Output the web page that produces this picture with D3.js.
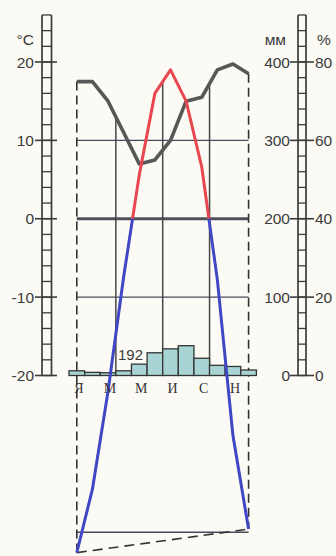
<!DOCTYPE html>
<html>
<head>
<meta charset="utf-8">
<script src="https://cdn.jsdelivr.net/npm/d3@7"></script>
<style>
  body { margin: 0; background: #fbfaf5; }
  svg { display: block; }
</style>
</head>
<body>
<div id="chart"></div>
<script>
// climate diagram data
const months = ["Jan", "Feb", "Mar", "Apr", "May", "Jun", "Jul", "Aug", "Sep", "Oct", "Nov", "Dec"];
const monthLabels = ["Я", "", "М", "", "М", "", "И", "", "С", "", "Н", ""];
const temperature = [-42.6, -34.5, -22, -7.4, 5.6, 16, 19, 15, 6.6, -7.8, -27.7, -39.6];   // °C
const humidity = [75, 75, 70, 62, 54, 55, 60, 70, 71, 78, 79.5, 77];                       // %
const precipitation = [6, 4, 3.5, 6, 14.5, 29, 34, 38, 22, 13, 11.5, 7];                   // mm
const annualTotal = "192";
const tempTicks = [-20, -10, 0, 10, 20];
const mmTicks = [0, 100, 200, 300, 400];
const pctTicks = [0, 20, 40, 60, 80];
const gridTemps = [10, 0, -10, -40];
const quarterStarts = ["Apr", "Jul", "Oct"];

var W = 336, H = 556;
var ink = "#3b3b3b";

var svg = d3.select("#chart").append("svg")
    .attr("width", W)
    .attr("height", H);

// scales
var x = d3.scaleBand().domain(months).range([69, 256.4]);
var cx = function (m) { return x(m) + x.bandwidth() / 2; };
var yT = d3.scaleLinear().domain([-20, 20]).range([375.5, 62]);
var yMm = d3.scaleLinear().domain([0, 400]).range([375.5, 62]);
var yPct = d3.scaleLinear().domain([0, 80]).range([375.5, 62]);

var xFirst = cx(months[0]), xLast = cx(months[months.length - 1]);

// linear interpolation of a monthly series in pixel space
var interpY = function (values, scale, px) {
    for (var i = 0; i < months.length - 1; i++) {
        var a = cx(months[i]), b = cx(months[i + 1]);
        if (px >= a && px <= b) {
            var t = (px - a) / (b - a);
            return scale(values[i]) + t * (scale(values[i + 1]) - scale(values[i]));
        }
    }
    return scale(values[0]);
};

// ---- ladders (scales at both sides) ----
var drawLadder = function (x1, x2, tx1, tx2) {
    var g = svg.append("g");
    var top = yT(26), bottom = yT(-20);
    g.selectAll(".rail").data([x1, x2]).enter().append("line")
        .attr("x1", d => d).attr("x2", d => d)
        .attr("y1", top).attr("y2", bottom)
        .attr("stroke", ink).attr("stroke-width", 1.7);
    g.selectAll(".rung").data(d3.range(-20, 27, 2)).enter().append("line")
        .attr("x1", x1).attr("x2", x2)
        .attr("y1", d => yT(d)).attr("y2", d => yT(d))
        .attr("stroke", ink).attr("stroke-width", 1.3);
    g.selectAll(".tick").data(tempTicks).enter().append("line")
        .attr("x1", tx1).attr("x2", tx2)
        .attr("y1", d => yT(d)).attr("y2", d => yT(d))
        .attr("stroke", ink).attr("stroke-width", 1.6);
};
drawLadder(42, 51.5, 35, 57);
drawLadder(298, 306, 290, 314);

var labelStyle = function (sel) {
    return sel.attr("font-family", "Liberation Sans, Arial, sans-serif")
        .attr("font-size", "15.5px")
        .attr("fill", ink);
};

// left axis labels (°C)
labelStyle(svg.selectAll(".tl").data(tempTicks).enter().append("text"))
    .attr("x", 34).attr("y", d => yT(d)).attr("dy", "0.36em")
    .attr("text-anchor", "end")
    .text(d => d);
labelStyle(svg.append("text")).attr("x", 34).attr("y", 45).attr("text-anchor", "end").text("°C");

// right axis labels (mm and %)
labelStyle(svg.selectAll(".ml").data(mmTicks).enter().append("text"))
    .attr("x", 290).attr("y", d => yMm(d)).attr("dy", "0.36em")
    .attr("text-anchor", "end")
    .text(d => d);
labelStyle(svg.selectAll(".pl").data(pctTicks).enter().append("text"))
    .attr("x", 315).attr("y", d => yPct(d)).attr("dy", "0.36em")
    .text(d => d);
labelStyle(svg.append("text")).attr("x", 286).attr("y", 45).attr("text-anchor", "end").text("мм");
labelStyle(svg.append("text")).attr("x", 317).attr("y", 45).text("%");

// ---- grid ----
svg.selectAll(".grid").data(gridTemps).enter().append("line")
    .attr("x1", xFirst).attr("x2", xLast)
    .attr("y1", d => yT(d)).attr("y2", d => yT(d))
    .attr("stroke", d => d === 0 ? "#4e5159" : "#464d5a")
    .attr("stroke-width", d => d === 0 ? 3 : 1.4);

// quarter verticals run from the upper curve down to the bars
svg.selectAll(".qv").data(quarterStarts).enter().append("line")
    .attr("x1", d => x(d)).attr("x2", d => x(d))
    .attr("y1", d => Math.min(interpY(humidity, yPct, x(d)), interpY(temperature, yT, x(d))))
    .attr("y2", yMm(0))
    .attr("stroke", "#484848").attr("stroke-width", 1.5);

// dashed frame: from humidity point down to temperature point at Jan and Dec
var ends = [0, months.length - 1];
svg.selectAll(".dv").data(ends).enter().append("line")
    .attr("x1", i => cx(months[i])).attr("x2", i => cx(months[i]))
    .attr("y1", i => yPct(humidity[i]))
    .attr("y2", i => yT(temperature[i]))
    .attr("stroke", "#333").attr("stroke-width", 1.6)
    .attr("stroke-dasharray", "9,5");

svg.append("line")
    .attr("x1", xFirst).attr("y1", yT(temperature[0]))
    .attr("x2", xLast).attr("y2", yT(temperature[months.length - 1]))
    .attr("stroke", "#333").attr("stroke-width", 1.6)
    .attr("stroke-dasharray", "10,6");

// ---- precipitation bars ----
svg.selectAll(".bar").data(precipitation).enter().append("rect")
    .attr("x", (d, i) => x(months[i]))
    .attr("width", x.bandwidth())
    .attr("y", d => yMm(d))
    .attr("height", d => yMm(0) - yMm(d))
    .attr("fill", "#a8d5d3")
    .attr("stroke", "#333")
    .attr("stroke-width", 1.3);

// ---- humidity line ----
var humLine = d3.line()
    .x((d, i) => cx(months[i]))
    .y(d => yPct(d));
svg.append("path").datum(humidity)
    .attr("d", humLine)
    .attr("fill", "none")
    .attr("stroke", "#575757")
    .attr("stroke-width", 3.6)
    .attr("stroke-linejoin", "round");

// ---- temperature line: red above 0, blue below ----
var defs = svg.append("defs");
defs.append("clipPath").attr("id", "above")
    .append("rect").attr("x", 0).attr("y", 0).attr("width", W).attr("height", yT(0));
defs.append("clipPath").attr("id", "below")
    .append("rect").attr("x", 0).attr("y", yT(0)).attr("width", W).attr("height", H - yT(0));

var tempLine = d3.line()
    .x((d, i) => cx(months[i]))
    .y(d => yT(d));
[["above", "#e8474f"], ["below", "#3f47c4"]].forEach(function (p) {
    svg.append("path").datum(temperature)
        .attr("d", tempLine)
        .attr("clip-path", "url(#" + p[0] + ")")
        .attr("fill", "none")
        .attr("stroke", p[1])
        .attr("stroke-width", 3)
        .attr("stroke-linejoin", "round");
});

// ---- month labels and annual total ----
svg.selectAll(".mlab").data(months).enter().append("text")
    .attr("x", d => cx(d) + 2)
    .attr("y", 393)
    .attr("text-anchor", "middle")
    .attr("font-family", "Liberation Serif, Times New Roman, serif")
    .attr("font-size", "14px")
    .attr("fill", "#333")
    .text((d, i) => monthLabels[i]);

svg.append("text")
    .attr("x", cx("Mar") + 10)
    .attr("y", yMm(20))
    .attr("font-family", "Liberation Sans, Arial, sans-serif")
    .attr("font-size", "15px")
    .attr("fill", ink)
    .text(annualTotal);
</script>
</body>
</html>
